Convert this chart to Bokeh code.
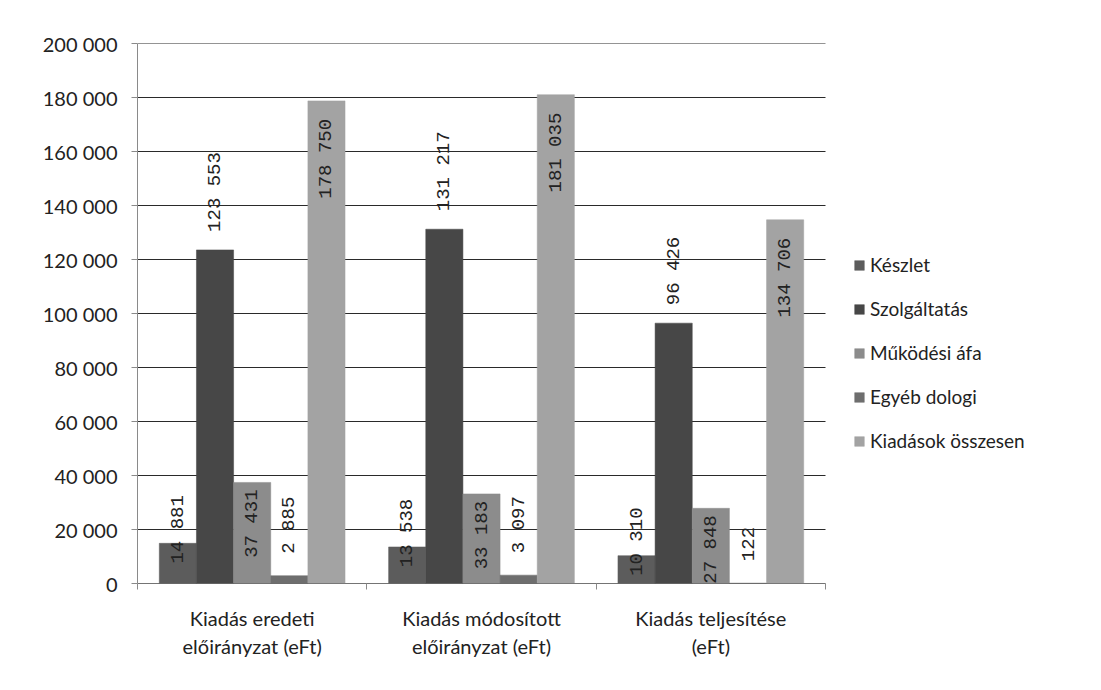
import numpy as np
from bokeh.plotting import figure
from bokeh.models import (Range1d, FixedTicker, Legend, LegendItem, ColumnDataSource)
from bokeh.core.properties import value
from bokeh.embed import file_html
from bokeh.resources import INLINE

# ---------------- data ----------------
categories = ["Kiadás eredeti\nelőirányzat (eFt)",
              "Kiadás módosított\nelőirányzat (eFt)",
              "Kiadás teljesítése\n(eFt)"]
series_names = ["Készlet", "Szolgáltatás", "Működési áfa", "Egyéb dologi", "Kiadások összesen"]
keszlet = [14881, 13538, 10310]
szolgaltatas = [123553, 131217, 96426]
mukodesi_afa = [37431, 33183, 27848]
egyeb_dologi = [2885, 3097, 122]
osszesen = [178750, 181035, 134706]
y_ticks = [0, 20000, 40000, 60000, 80000, 100000, 120000, 140000, 160000, 180000, 200000]
y_tick_labels = ["0", "20 000", "40 000", "60 000", "80 000", "100 000",
                 "120 000", "140 000", "160 000", "180 000", "200 000"]

series_values = [keszlet, szolgaltatas, mukodesi_afa, egyeb_dologi, osszesen]

# ---------------- style ----------------
colors = ["#5c5c5c", "#474747", "#8c8c8c", "#6e6e6e", "#a3a3a3"]
# label placement per series: (align, pixel offset: negative = up)
label_modes = [("center", -14), ("left", -18), ("right", 7), ("left", -22), ("right", 18)]
FONT = "Lato"
bar_w = 0.162

W, H = 1090, 680
LEFT, TOP, BOTTOM, RIGHT = 137, 43, 97, 5
PLOT_W = 688                      # width of the category area in pixels
n_cat = len(categories)
frame_w = W - LEFT - RIGHT
x_end = n_cat * frame_w / PLOT_W  # extra room on the right holds the legend

p = figure(width=W, height=H, output_backend="svg", toolbar_location=None,
           x_range=Range1d(0, x_end), y_range=Range1d(0, y_ticks[-1]),
           min_border_left=LEFT, min_border_right=RIGHT, min_border_top=TOP,
           min_border_bottom=BOTTOM)
p.outline_line_color = None
p.background_fill_color = "white"
p.border_fill_color = "white"

# horizontal gridlines, only across the category area
grid_src = ColumnDataSource(dict(x0=[0] * len(y_ticks), x1=[n_cat] * len(y_ticks), y=y_ticks))
p.segment(x0="x0", y0="y", x1="x1", y1="y", source=grid_src,
          line_color="#2a2a2a", line_width=1)

legend_items = []
for i, (name, vals) in enumerate(zip(series_names, series_values)):
    xs = [g + 0.5 + (i - 2) * bar_w for g in range(n_cat)]
    src = ColumnDataSource(dict(x=xs, top=vals,
                                lbl=[f"{v:,}".replace(",", " ") for v in vals]))
    r = p.vbar(x="x", top="top", width=bar_w, source=src,
               fill_color=colors[i], line_color=colors[i], line_width=0.5)
    legend_items.append(LegendItem(label=name, renderers=[r]))
    align, off = label_modes[i]
    p.text(x="x", y="top", text="lbl", source=src, angle=np.pi / 2,
           text_align=align, text_baseline="middle", y_offset=off,
           text_font=value("Liberation Mono"), text_font_size="19px",
           text_color="#222222")

# baseline
p.segment(x0=[0], y0=[0], x1=[n_cat], y1=[0], line_color="#555555", line_width=1)

# y axis
p.yaxis.ticker = FixedTicker(ticks=y_ticks)
p.yaxis.major_label_overrides = {t: l for t, l in zip(y_ticks, y_tick_labels)}
p.yaxis.axis_line_color = "#8a8a8a"
p.yaxis.major_tick_line_color = "#8a8a8a"
p.yaxis.major_tick_out = 6
p.yaxis.major_tick_in = 0
p.yaxis.minor_tick_line_color = None
p.yaxis.major_label_standoff = 14
p.yaxis.major_label_text_font = FONT
p.yaxis.major_label_text_font_size = "20px"
p.yaxis.major_label_text_color = "#222222"

# x axis
centers = [g + 0.5 for g in range(n_cat)]
p.xaxis.ticker = FixedTicker(ticks=centers, minor_ticks=list(range(n_cat + 1)))
p.xaxis.major_label_overrides = {c: l for c, l in zip(centers, categories)}
p.xaxis.axis_line_color = None
p.xaxis.major_tick_line_color = None
p.xaxis.minor_tick_line_color = "#8a8a8a"
p.xaxis.minor_tick_out = 6
p.xaxis.minor_tick_in = 0
p.xaxis.major_label_standoff = 16
p.xaxis.major_label_text_font = FONT
p.xaxis.major_label_text_font_size = "20px"
p.xaxis.major_label_text_color = "#222222"

p.xgrid.grid_line_color = None
p.ygrid.grid_line_color = None

legend = Legend(items=legend_items, location=(716, 131), orientation="vertical",
                background_fill_alpha=0, border_line_color=None,
                glyph_width=12, glyph_height=12, label_standoff=5, spacing=21,
                padding=0, margin=0,
                label_text_font=FONT, label_text_font_size="19px", label_text_color="#222222")
p.add_layout(legend)

open("out.html", "w").write(file_html(p, INLINE))
